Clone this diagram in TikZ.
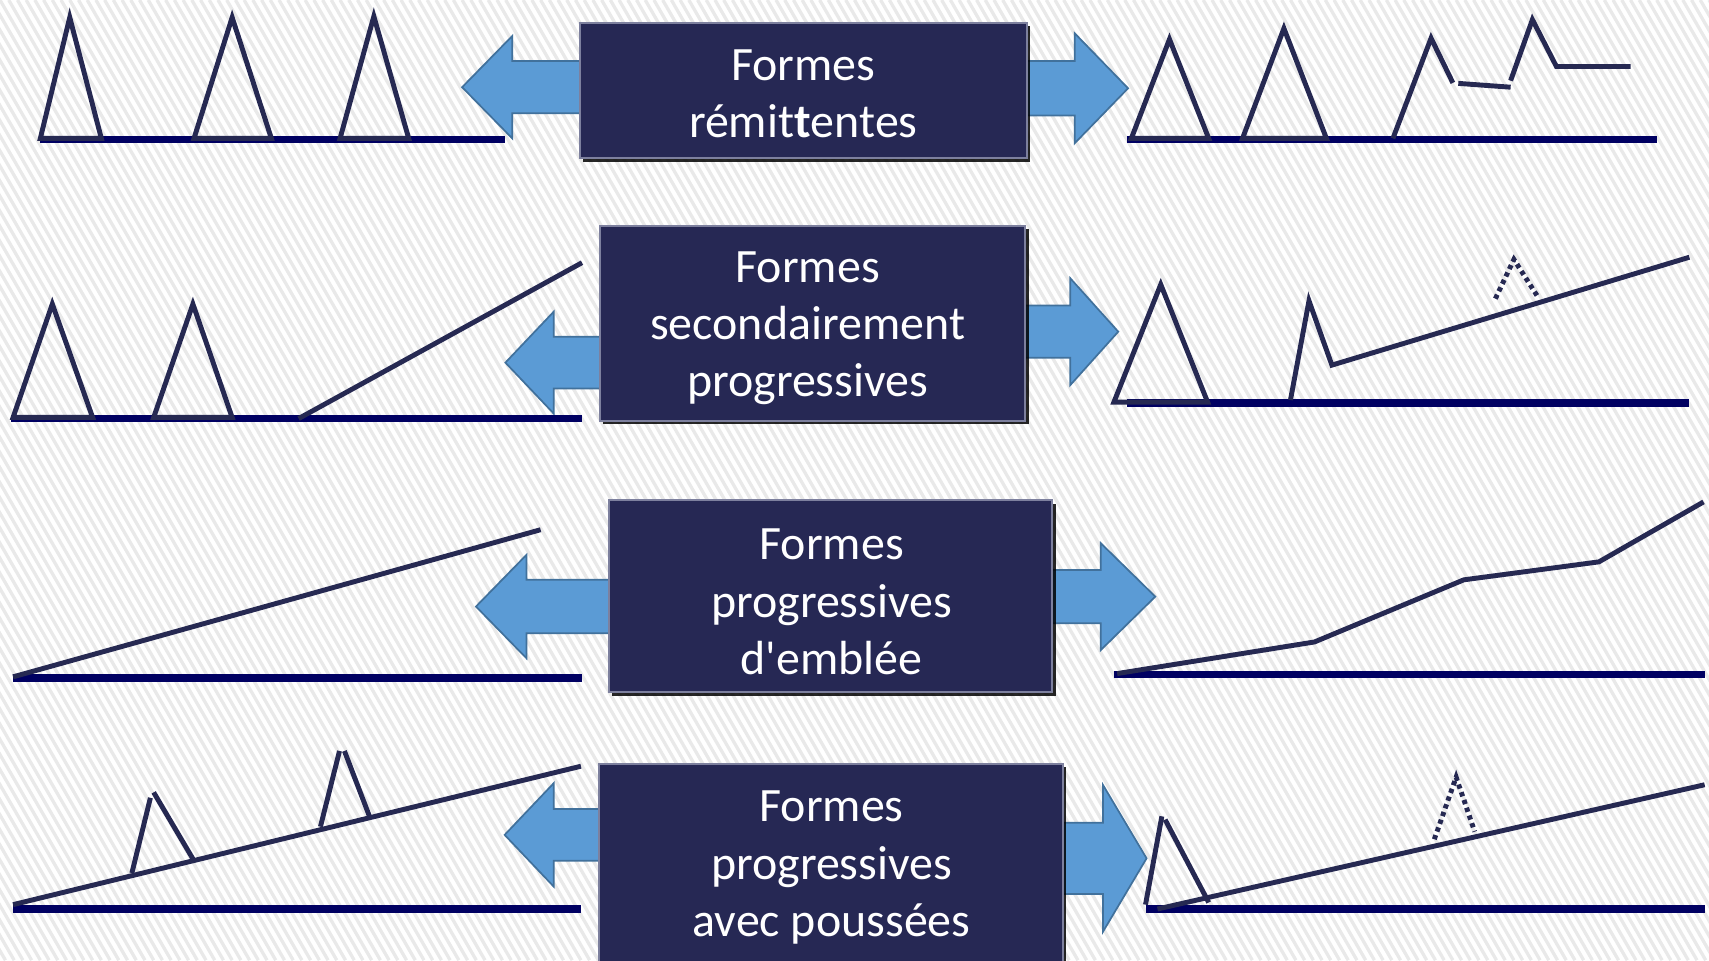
\documentclass[tikz,border=0pt]{standalone}
\usepackage{fontspec}
\setmainfont{Carlito}
\usetikzlibrary{shadows}
\definecolor{stripe}{RGB}{233,233,233}
\definecolor{boxnavy}{RGB}{38,40,84}
\definecolor{boxedge}{RGB}{125,128,158}
\definecolor{arrowfill}{RGB}{91,155,213}
\definecolor{arrowedge}{RGB}{65,113,156}
\definecolor{axisnavy}{RGB}{0,0,98}
\definecolor{curvenavy}{RGB}{38,41,82}
% block arrow: tip x, tip y, back of head x, head half height, shaft half height, shaft end x
\newcommand{\blockarrow}[6]{%
  \draw[bigarrow] (#1,#2) -- (#3,#2-#4) -- (#3,#2-#5) -- (#6,#2-#5) -- (#6,#2+#5) -- (#3,#2+#5) -- (#3,#2+#4) -- cycle;}

\begin{document}
\begin{tikzpicture}[x=0.01cm, y=-0.01cm,
  axe/.style={draw=axisnavy, line width=0.07cm},
  courbe/.style={draw=curvenavy, line width=0.045cm},
  pointille/.style={courbe, dash pattern=on 0.04cm off 0.035cm},
  bigarrow/.style={fill=arrowfill, draw=arrowedge, line width=0.45pt},
  formbox/.style={fill=boxnavy, draw=boxedge, line width=0.5pt,
    drop shadow={shadow xshift=0.9pt, shadow yshift=-0.9pt, fill=black, opacity=0.85}},
  formtext/.style={text=white, align=center, inner sep=0pt, yshift=-0.9pt,
    font=\fontsize{12.5}{15}\selectfont}]
  % Page size and background
  \useasboundingbox (0,0) rectangle (1568,881);
  \clip (0,0) rectangle (1568,881);
  \fill[white] (0,0) rectangle (1568,881);
  \foreach \k in {-520,-512,...,1568} {
    \draw[stripe, line width=0.03cm] (\k,0) -- ++(509,881);
  }

  % Arrows out of the boxes
  \blockarrow{424}{80}{470}{47}{24}{540}
  \blockarrow{1035}{81}{986}{50.5}{25}{935}
  \blockarrow{463.7}{332.7}{508}{46.7}{23.7}{555}
  \blockarrow{1026}{304.3}{982}{49}{24}{935}
  \blockarrow{436.7}{556.5}{483}{47.4}{24.5}{565}
  \blockarrow{1060}{547.4}{1010}{49}{24.5}{960}
  \blockarrow{463}{766}{508}{47.4}{23.7}{555}
  \blockarrow{1052}{787.5}{1012}{67.3}{32.7}{970}

  % Row 1: remittent, left
  \draw[axe] (37,128) -- (463,128);
  \draw[courbe] (37,127) -- (64,16) -- (93,127) -- cycle;
  \draw[courbe] (178,127) -- (213,16) -- (249,127) -- cycle;
  \draw[courbe] (312,127) -- (343,15) -- (375,127) -- cycle;
  % Row 1: remittent, right
  \draw[axe] (1034,128) -- (1520,128);
  \draw[courbe] (1038,127) -- (1073,36) -- (1109,127) -- cycle;
  \draw[courbe] (1140,127) -- (1178,26) -- (1217,127) -- cycle;
  \draw[courbe] (1278,127) -- (1313,35) -- (1333,76);
  \draw[courbe] (1338,76.5) -- (1386,80);
  \draw[courbe] (1386,74) -- (1406,18) -- (1428,61) -- (1496,61);

  % Row 2: secondary progressive, left
  \draw[axe] (10,384) -- (534,384);
  \draw[courbe] (12,383) -- (48,279) -- (85,383) -- cycle;
  \draw[courbe] (141,383) -- (177,279) -- (213,383) -- cycle;
  \draw[courbe] (274,384) -- (534,241);
  % Row 2: secondary progressive, right
  \draw[axe] (1034,370) -- (1550,370);
  \draw[courbe] (1022,369) -- (1065,261) -- (1108,369) -- cycle;
  \draw[courbe] (1184,367) -- (1201,276) -- (1222,335) -- (1550,236);
  \draw[pointille] (1372,274) -- (1389,238) -- (1412,274);

  % Row 3: primary progressive
  \draw[axe] (12,622) -- (534,622);
  \draw[courbe] (12,621) -- (496,486);
  \draw[axe] (1022,619) -- (1564,619);
  \draw[courbe] (1025,618) -- (1206,589) -- (1343,532) -- (1467,515.5) -- (1563,460.5);

  % Row 4: progressive with relapses, left
  \draw[axe] (12,834) -- (533,834);
  \draw[courbe] (12,830) -- (533,703);
  \draw[courbe] (121,801) -- (138,732);
  \draw[courbe] (141,727) -- (177,788);
  \draw[courbe] (294,758.5) -- (311.5,689);
  \draw[courbe] (316,689) -- (339,749);
  % Row 4: progressive with relapses, right
  \draw[axe] (1051,834) -- (1564,834);
  \draw[courbe] (1051,830) -- (1066,749);
  \draw[courbe] (1069,752) -- (1109,828);
  \draw[courbe] (1062,834) -- (1564,720);
  \draw[pointille] (1316,770) -- (1336,713) -- (1353,763);

  % Boxes
  \node[formbox, minimum width=4.10cm, minimum height=1.245cm] (remit) at (737,83) {};
  \node[formtext] (remit-txt) at (remit) {Formes\\rémit\textbf{t}entes};
  \node[formbox, minimum width=3.90cm, minimum height=1.79cm] (secprog) at (745.5,296.5) {};
  \node[formtext] (secprog-txt) at (741,298) {Formes\\secondairement\\progressives};
  \node[formbox, minimum width=4.07cm, minimum height=1.76cm] (emblee) at (762,547) {};
  \node[formtext] (emblee-txt) at (763,549) {Formes\\progressives\\d\textquotesingle emblée};
  \node[formbox, minimum width=4.25cm, minimum height=1.82cm] (poussees) at (762.6,792) {};
  \node[formtext] (poussees-txt) at (763,793) {Formes\\progressives\\avec poussées};
\end{tikzpicture}
\end{document}
